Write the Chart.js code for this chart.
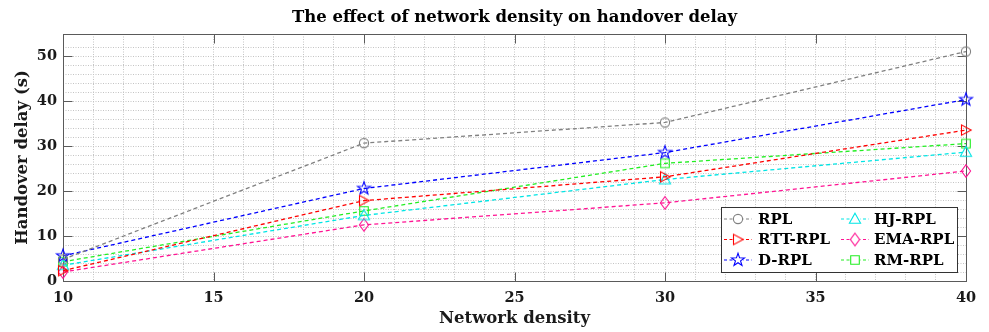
<!DOCTYPE html>
<html><head><meta charset="utf-8">
<script src="https://cdn.jsdelivr.net/npm/chart.js@4.4.1/dist/chart.umd.min.js"></script>
<style>html,body{margin:0;padding:0;background:#fff}#wrap{width:989px;height:332px}</style>
</head><body><div id="wrap"><canvas id="c" width="989" height="332"></canvas></div>
<script>
// ---- data ----
const densities = [10, 20, 30, 40];
const seriesNames = ['RPL', 'RTT-RPL', 'D-RPL', 'HJ-RPL', 'EMA-RPL', 'RM-RPL'];
const rplDelay    = [4.8, 30.7, 35.3, 51.1];
const rttRplDelay = [2.3, 17.9, 23.2, 33.6];
const dRplDelay   = [5.6, 20.6, 28.6, 40.4];
const hjRplDelay  = [3.5, 14.6, 22.6, 28.7];
const emaRplDelay = [2.0, 12.5, 17.4, 24.5];
const rmRplDelay  = [4.3, 15.6, 26.2, 30.6];
const xTickLabels = [10, 15, 20, 25, 30, 35, 40];
const yTickLabels = [0, 10, 20, 30, 40, 50];
const chartTitle = 'The effect of network density on handover delay';
const xTitle = 'Network density';
const yTitle = 'Handover delay (s)';

// ---- styles ----
const seriesValues = [rplDelay, rttRplDelay, dRplDelay, hjRplDelay, emaRplDelay, rmRplDelay];
const seriesColors = ['#808080', '#ff0000', '#0000ff', '#00e5e5', '#ff1493', '#22ee22'];
const seriesShapes = ['circle', 'triRight', 'star', 'triUp', 'diamond', 'square'];
const SERIF = "'DejaVu Serif', 'Liberation Serif', serif";

function makeMarker(shape, color) {
  const c = document.createElement('canvas');
  c.width = 18; c.height = 18;
  const g = c.getContext('2d');
  g.strokeStyle = color; g.lineWidth = 1.1; g.lineJoin = 'miter';
  const cx = 9, cy = 9;
  g.beginPath();
  if (shape === 'circle') {
    g.arc(cx, cy, 4.6, 0, Math.PI * 2);
  } else if (shape === 'triRight') {
    g.moveTo(cx + 5.2, cy); g.lineTo(cx - 4.5, cy - 5.2); g.lineTo(cx - 4.5, cy + 5.2);
  } else if (shape === 'star') {
    for (let i = 0; i < 10; i++) {
      const r = i % 2 === 0 ? 6.8 : 2.7;
      const a = -Math.PI / 2 + i * Math.PI / 5;
      const px = cx + r * Math.cos(a), py = cy + r * Math.sin(a);
      if (i === 0) g.moveTo(px, py); else g.lineTo(px, py);
    }
  } else if (shape === 'triUp') {
    g.moveTo(cx, cy - 5.8); g.lineTo(cx + 5.6, cy + 4.2); g.lineTo(cx - 5.6, cy + 4.2);
  } else if (shape === 'diamond') {
    g.moveTo(cx, cy - 6.3); g.lineTo(cx + 4.6, cy); g.lineTo(cx, cy + 6.3); g.lineTo(cx - 4.6, cy);
  } else if (shape === 'square') {
    g.rect(cx - 4.3, cy - 4.3, 8.6, 8.6);
  }
  g.closePath();
  g.stroke();
  return c;
}
const markers = seriesShapes.map((s, i) => makeMarker(s, seriesColors[i]));

const datasets = seriesNames.map((name, i) => ({
  label: name,
  data: densities.map((x, j) => ({ x: x, y: seriesValues[i][j] })),
  borderColor: seriesColors[i],
  backgroundColor: 'transparent',
  borderWidth: 1.3,
  borderDash: [4, 3],
  pointStyle: markers[i],
  pointRadius: 6,
  pointHoverRadius: 6,
  fill: false,
  tension: 0,
  clip: false
}));

const boxPlugin = {
  id: 'boxPlugin',
  beforeDatasetsDraw(chart) {
    const { ctx, chartArea: a, scales } = chart;
    const L = Math.round(a.left) + 0.5, R = Math.round(a.right) + 0.5;
    const T = Math.round(a.top) + 0.5, B = Math.round(a.bottom) + 0.5;
    ctx.save();
    ctx.strokeStyle = '#5a5a5a'; ctx.lineWidth = 1; ctx.setLineDash([]);
    ctx.strokeRect(L, T, R - L, B - T);
    const tl = 9;
    ctx.beginPath();
    xTickLabels.forEach(v => {
      const x = Math.round(scales.x.getPixelForValue(v)) + 0.5;
      ctx.moveTo(x, B); ctx.lineTo(x, B - tl);
      ctx.moveTo(x, T); ctx.lineTo(x, T + tl);
    });
    yTickLabels.forEach(v => {
      const y = Math.round(scales.y.getPixelForValue(v)) + 0.5;
      ctx.moveTo(L, y); ctx.lineTo(L + tl, y);
      ctx.moveTo(R, y); ctx.lineTo(R - tl, y);
    });
    ctx.stroke();
    ctx.restore();
  },
  afterDraw(chart) {
    const { ctx, chartArea: a } = chart;
    ctx.save();
    // title
    ctx.fillStyle = '#000';
    ctx.font = "bold 16.5px " + SERIF;
    ctx.textAlign = 'center'; ctx.textBaseline = 'middle';
    ctx.fillText(chartTitle, (a.left + a.right) / 2, 18);
    // legend
    const bx = 721.5, by = 207.5, bw = 236, bh = 65;
    ctx.fillStyle = '#fff';
    ctx.fillRect(bx, by, bw, bh);
    ctx.strokeStyle = '#333'; ctx.lineWidth = 1;
    ctx.strokeRect(bx, by, bw, bh);
    const rows = [219, 239.5, 260];
    const cols = [{ l0: 724, l1: 752, m: 738, t: 758 }, { l0: 841, l1: 869, m: 855, t: 874 }];
    ctx.font = "bold 15px " + SERIF;
    ctx.textAlign = 'left'; ctx.textBaseline = 'middle';
    chart.data.datasets.forEach((ds, i) => {
      const col = cols[Math.floor(i / 3)], y = rows[i % 3];
      ctx.strokeStyle = ds.borderColor; ctx.lineWidth = 1.1; ctx.setLineDash([3, 2.5]);
      ctx.beginPath(); ctx.moveTo(col.l0, y); ctx.lineTo(col.l1, y); ctx.stroke();
      ctx.setLineDash([]);
      ctx.fillStyle = '#fff';
      ctx.fillRect(col.m - 5, y - 6, 10, 12);
      const img = ds.pointStyle;
      ctx.drawImage(img, col.m - img.width / 2, y - img.height / 2);
      ctx.fillStyle = '#000';
      ctx.fillText(ds.label, col.t, y + 1);
    });
    ctx.restore();
  }
};

const gridStyle = {
  color: '#c4c4c4',
  lineWidth: 1,
  drawTicks: false
};

new Chart(document.getElementById('c'), {
  type: 'line',
  data: { datasets: datasets },
  options: {
    responsive: false,
    animation: false,
    devicePixelRatio: 1,
    layout: { padding: { top: 34, right: 23, left: 0, bottom: 0 } },
    plugins: { legend: { display: false }, tooltip: { enabled: false }, title: { display: false } },
    scales: {
      x: {
        type: 'linear', min: 10, max: 40,
        afterFit(s) { s.height = 51; },
        ticks: {
          stepSize: 1, autoSkip: false, maxRotation: 0, padding: 9,
          color: '#1a1a1a', font: { family: SERIF, size: 14.5, weight: 'bold' },
          callback: v => (xTickLabels.includes(v) ? String(v) : '')
        },
        grid: gridStyle,
        border: { display: false, dash: [1, 1.5] },
        title: { display: true, text: xTitle, color: '#1a1a1a', font: { family: SERIF, size: 16.5, weight: 'bold' }, padding: { top: 0, bottom: 3 } }
      },
      y: {
        type: 'linear', min: 0, max: 55,
        afterFit(s) { s.width = 63; },
        ticks: {
          stepSize: 2, autoSkip: false, padding: 6,
          color: '#1a1a1a', font: { family: SERIF, size: 14.5, weight: 'bold' },
          callback: v => (yTickLabels.includes(v) ? String(v) : '')
        },
        grid: gridStyle,
        border: { display: false, dash: [1, 1.5] },
        title: { display: true, text: yTitle, color: '#1a1a1a', font: { family: SERIF, size: 16.5, weight: 'bold' }, padding: { top: 13, bottom: 0 } }
      }
    }
  },
  plugins: [boxPlugin]
});
</script>
</body></html>
